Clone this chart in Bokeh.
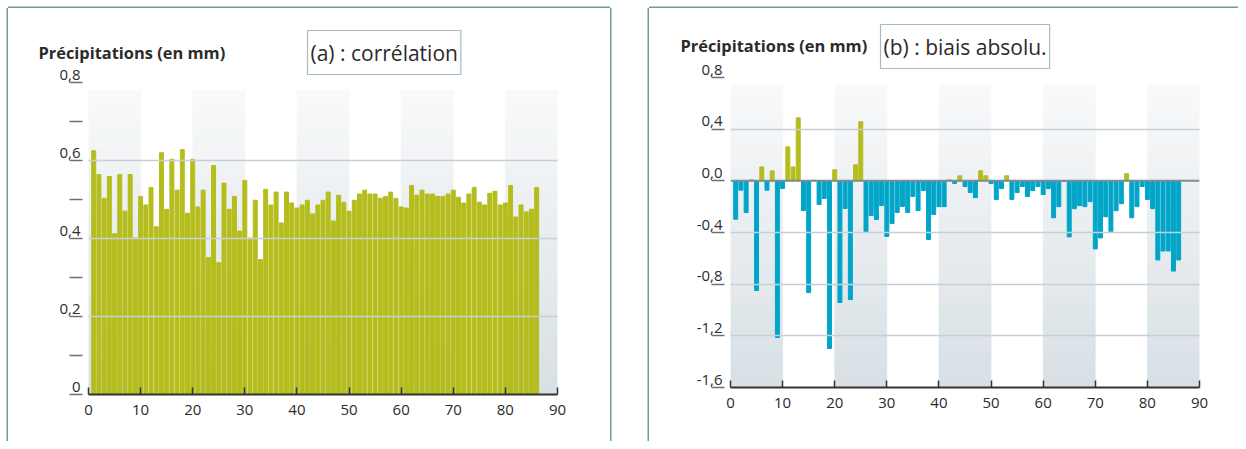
import numpy as np
from bokeh.plotting import figure
from bokeh.layouts import row, column
from bokeh.models import Range1d, FixedTicker, Label, Spacer, Span
from bokeh.embed import file_html
from bokeh.resources import INLINE

# ---------------- data ----------------
stations = list(range(1, 87))
correlation = [0.625, 0.564, 0.503, 0.559, 0.412, 0.564, 0.470, 0.564, 0.401, 0.508,
               0.486, 0.531, 0.430, 0.620, 0.475, 0.603, 0.524, 0.628, 0.465, 0.603,
               0.481, 0.524, 0.351, 0.587, 0.338, 0.542, 0.475, 0.508, 0.419, 0.549,
               0.401, 0.498, 0.346, 0.526, 0.486, 0.519, 0.440, 0.519, 0.491, 0.478,
               0.486, 0.498, 0.463, 0.486, 0.498, 0.519, 0.445, 0.511, 0.493, 0.470,
               0.498, 0.514, 0.524, 0.514, 0.514, 0.503, 0.508, 0.519, 0.503, 0.481,
               0.478, 0.536, 0.511, 0.524, 0.514, 0.514, 0.508, 0.508, 0.514, 0.524,
               0.506, 0.491, 0.514, 0.531, 0.493, 0.486, 0.516, 0.521, 0.486, 0.491,
               0.536, 0.455, 0.486, 0.468, 0.475, 0.531]
bias = [-0.297, -0.072, -0.245, 0.008, -0.849, 0.108, -0.072, 0.077, -1.213, -0.059,
        0.263, 0.108, 0.488, -0.230, -0.865, 0.005, -0.183, -0.137, -1.298, 0.085,
        -0.942, -0.214, -0.919, 0.124, 0.457, -0.392, -0.268, -0.299, -0.191, -0.431,
        -0.330, -0.245, -0.199, -0.245, -0.121, -0.230, -0.075, -0.454, -0.261, -0.200,
        -0.200, 0.008, -0.020, 0.039, -0.044, -0.091, -0.130, 0.078, 0.039, -0.021,
        -0.145, -0.060, 0.039, -0.145, -0.091, -0.044, -0.122, -0.075, -0.044, -0.106,
        -0.060, -0.286, -0.200, 0.0, -0.434, -0.216, -0.192, -0.200, -0.161, -0.527,
        -0.442, -0.278, -0.395, -0.231, -0.177, 0.055, -0.286, -0.200, -0.044, -0.145,
        -0.216, -0.613, -0.543, -0.543, -0.699, -0.613]

x_ticks = [0, 10, 20, 30, 40, 50, 60, 70, 80, 90]
band_starts = [0, 20, 40, 60, 80]
corr_ticks = [0, 0.2, 0.4, 0.6, 0.8]
corr_tick_labels = ["0", "0,2", "0,4", "0,6", "0,8"]
corr_minor = [0.1, 0.3, 0.5, 0.7]
bias_ticks = [-1.6, -1.2, -0.8, -0.4, 0.0, 0.4, 0.8]
bias_tick_labels = ["-1,6", "-1,2", "-0,8", "-0,4", "0,0", "0,4", "0,8"]

y_title = "Précipitations (en mm)"
title_a = "(a) : corrélation"
title_b = "(b) : biais absolu."

OLIVE = "#b5bd1d"
BLUE = "#00a5c8"
FONT = "Open Sans"
TXT = "#2b2b2b"
GRID = "#c6d0d7"
PANEL = "#6c9d98"


def add_bands(p, y_top, y_bot, n=36):
    c_top = np.array([249, 250, 251])
    c_bot = np.array([216, 224, 229])
    edges = np.linspace(y_top, y_bot, n + 1)
    left, right, top, bottom, colors = [], [], [], [], []
    for b in band_starts:
        for i in range(n):
            t = (i + 0.5) / n
            c = (c_top * (1 - t) + c_bot * t).astype(int)
            col = "#%02x%02x%02x" % tuple(c)
            left.append(b)
            right.append(b + 10)
            top.append(edges[i])
            bottom.append(edges[i + 1])
            colors.append(col)
    p.quad(left=left, right=right, top=top, bottom=bottom, fill_color=colors,
           line_color=colors, line_width=0.6)


def style_common(p, ticks, labels, minor=()):
    p.background_fill_color = None
    p.border_fill_color = None
    p.outline_line_color = None
    p.frame_align = False
    p.xgrid.visible = False
    p.ygrid.grid_line_color = GRID
    p.ygrid.grid_line_width = 1.5
    p.ygrid.level = "overlay"
    xa = p.xaxis[0]
    xa.ticker = FixedTicker(ticks=x_ticks)
    xa.axis_line_color = "#333333"
    xa.axis_line_width = 2
    xa.major_tick_line_color = "#333333"
    xa.major_tick_line_width = 1.5
    xa.major_tick_in = 7
    xa.major_tick_out = 0
    xa.minor_tick_line_color = None
    xa.major_label_standoff = 10
    xa.major_label_text_font = FONT
    xa.major_label_text_font_size = "15px"
    xa.major_label_text_color = TXT
    ya = p.yaxis[0]
    ya.ticker = FixedTicker(ticks=ticks, minor_ticks=list(minor))
    ya.axis_line_color = None
    ya.major_tick_line_color = "#707070"
    ya.major_tick_line_width = 1.5
    ya.major_tick_in = -6
    ya.major_tick_out = 19
    ya.minor_tick_line_color = "#707070"
    ya.minor_tick_line_width = 1.5
    ya.minor_tick_in = -6
    ya.minor_tick_out = 19
    # label sits on top of its tick line (second empty line lifts it)
    ya.major_label_overrides = {t: lab + "\n " for t, lab in zip(ticks, labels)}
    ya.major_label_standoff = -11
    ya.major_label_text_font = FONT
    ya.major_label_text_font_size = "15px"
    ya.major_label_text_line_height = 0.88
    ya.major_label_text_color = TXT


def header(p, x_title, y_title_, x_box, y_box, box_text):
    p.add_layout(Label(x=x_title, y=y_title_, x_units="screen", y_units="screen",
                       text=y_title, text_font=FONT, text_font_size="16.4px",
                       text_font_style="bold", text_color=TXT, text_baseline="middle"),
                 "above")
    p.add_layout(Label(x=x_box, y=y_box, x_units="screen", y_units="screen",
                       text=box_text, text_font=FONT, text_font_size="21px",
                       text_color=TXT, text_baseline="middle", padding=(3, 8),
                       border_line_color="#a3bac9", border_line_width=1.2,
                       background_fill_color="white"),
                 "above")


# ---------------- panel (a) ----------------
pa = figure(width=602, height=433, x_range=Range1d(0, 90), y_range=Range1d(0, 0.8),
            output_backend="svg", toolbar_location=None,
            min_border_left=80, min_border_right=53, min_border_top=74, min_border_bottom=47)
style_common(pa, corr_ticks, corr_tick_labels, corr_minor)
add_bands(pa, 0.78, 0.0)
pa.vbar(x=stations, top=correlation, width=0.76, color=OLIVE)
pa.ygrid.ticker = FixedTicker(ticks=corr_ticks[1:])
header(pa, -50, 30, 219, 7, title_a)
pa.styles = {"box-shadow": f"-1.5px 0 0 0 {PANEL}, 1.5px 0 0 0 {PANEL}, 0 -1.5px 0 0 {PANEL}"}

# ---------------- panel (b) ----------------
pb = figure(width=589, height=433, x_range=Range1d(0, 90), y_range=Range1d(-1.6, 0.8),
            output_backend="svg", toolbar_location=None,
            min_border_left=81, min_border_right=39, min_border_top=69, min_border_bottom=54)
style_common(pb, bias_ticks, bias_tick_labels)
add_bands(pb, 0.74, -1.6)
bias_colors = [OLIVE if v > 0 else BLUE for v in bias]
pb.vbar(x=stations, top=bias, bottom=0, width=0.76, color=bias_colors)
pb.ygrid.ticker = FixedTicker(ticks=[t for t in bias_ticks if t not in (0.0, -1.6)])
pb.add_layout(Span(location=0, dimension="width", line_color="#7d8c96", line_width=2,
                   level="overlay"))
header(pb, -50, 32, 150, 8, title_b)
pb.styles = {"box-shadow": f"-1.5px 0 0 0 {PANEL}, 0 -1.5px 0 0 {PANEL}"}

layout = column(Spacer(height=8),
                row(Spacer(width=8), pa, Spacer(width=39), pb))
open("out.html", "w").write(file_html(layout, INLINE))
